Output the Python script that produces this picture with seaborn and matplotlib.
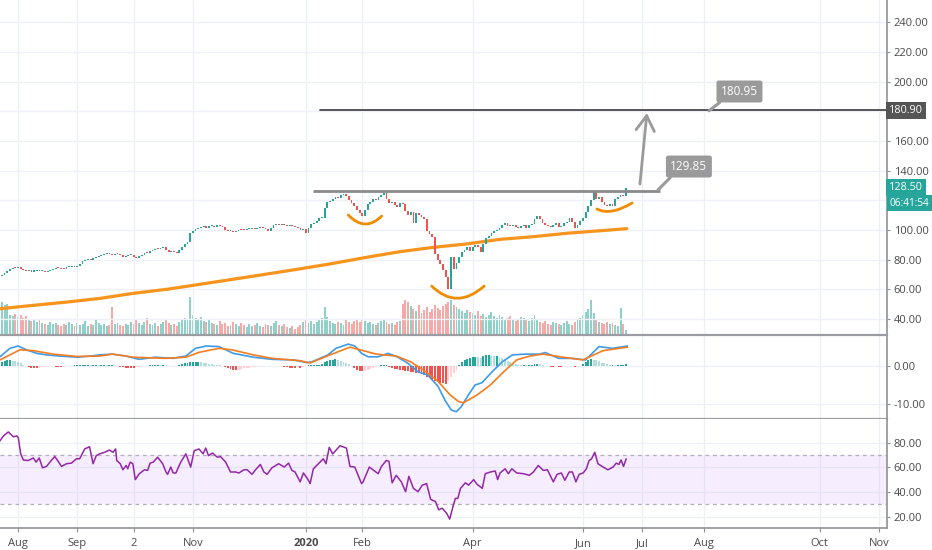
import numpy as np
import matplotlib
matplotlib.use("Agg")
import matplotlib.pyplot as plt
from matplotlib.path import Path
from matplotlib.patches import PathPatch
import seaborn as sns

# ---------------- data (bar index 0 = first trading day of Aug 2019) ----------------
first_bar = -6
first_open = 69.0
close_jul = [69.6, 70.8, 72.2, 73.6, 74.6, 74.2]
close_aug = [74.8, 74.0, 72.8, 72.3, 72.6, 72.0, 72.4, 72.9, 72.2, 72.6, 71.8, 72.5, 73.2, 73.8, 74.6, 74.2, 74.0, 73.5, 74.8, 75.2, 75.6, 75.0]
close_sep = [76.0, 77.2, 78.8, 80.0, 80.4, 79.6, 81.0, 81.8, 82.6, 83.4, 83.8, 84.4, 83.6, 83.0, 83.8, 84.0, 83.2, 81.8, 82.4, 83.0]
close_oct = [83.0, 81.6, 81.2, 82.6, 83.4, 84.6, 84.2, 85.6, 86.4, 87.4, 87.0, 88.0, 88.6, 86.2, 85.4, 86.0, 85.2, 84.2, 86.6, 88.8, 90.4, 92.0, 98.0]
close_nov = [99.6, 100.4, 101.2, 101.8, 102.4, 101.6, 102.8, 103.0, 102.2, 103.4, 102.6, 101.8, 100.2, 99.0, 99.4, 98.8, 99.6, 100.2, 100.0, 99.8, 100.6]
close_dec = [100.8, 101.0, 100.4, 101.4, 101.8, 101.2, 100.4, 99.2, 101.6, 103.2, 103.8, 103.4, 104.0, 103.2, 102.8, 103.0, 102.4, 102.0, 101.2, 99.8, 101.0]
close_jan = [98.0, 101.4, 103.8, 104.6, 106.2, 107.8, 108.4, 114.8, 118.6, 119.4, 120.8, 122.2, 121.8, 123.4, 124.0, 122.6, 120.4, 118.2, 116.0, 113.4, 111.2]
close_feb = [109.2, 113.8, 117.6, 119.2, 121.0, 120.0, 122.4, 123.6, 125.2, 120.6, 118.4, 119.0, 116.6, 115.8, 118.0, 117.2, 113.0, 110.4, 112.4]
close_mar = [105.0, 111.4, 110.0, 108.8, 107.6, 99.0, 97.2, 95.0, 84.0, 80.0, 77.0, 73.2, 68.0, 60.4, 82.0, 73.6, 78.0, 81.6, 85.0, 86.4, 88.8, 86.0]
close_apr = [88.8, 90.2, 88.4, 85.4, 90.6, 94.8, 96.2, 97.8, 99.4, 100.2, 101.6, 103.6, 104.8, 103.0, 102.4, 103.6, 102.0, 101.4, 102.8, 103.2, 101.6]
close_may = [103.4, 104.2, 107.6, 109.4, 107.2, 105.0, 103.6, 102.4, 101.8, 103.4, 104.6, 102.2, 103.0, 104.4, 105.6, 107.8, 105.2, 101.6, 103.4, 106.0]
close_jun = [108.0, 112.0, 116.5, 120.0, 125.8, 121.0, 122.2, 119.0, 117.0, 116.4, 117.6, 116.2, 120.6, 122.0, 123.4, 122.6, 128.5]

vol_jul = [66, 60, 62, 40, 38, 42]
vol_aug = [36, 40, 34, 38, 30, 28, 32, 26, 30, 24, 22, 20, 26, 22, 24, 20, 18, 22, 20, 26, 22, 18]
vol_sep = [24, 20, 22, 28, 18, 22, 20, 30, 24, 20, 22, 18, 20, 56, 22, 24, 20, 18, 22, 20]
vol_oct = [26, 22, 30, 24, 20, 26, 34, 22, 20, 24, 18, 22, 26, 30, 24, 20, 22, 18, 26, 30, 34, 32, 76]
vol_nov = [40, 34, 30, 36, 28, 26, 30, 24, 22, 20, 28, 22, 24, 18, 20, 26, 22, 18, 24, 20, 16]
vol_dec = [22, 18, 20, 24, 18, 16, 22, 20, 18, 24, 28, 20, 18, 22, 16, 14, 18, 12, 16, 20, 26]
vol_jan = [30, 24, 28, 22, 26, 30, 34, 56, 36, 28, 24, 22, 26, 24, 20, 30, 26, 22, 28, 32, 26]
vol_feb = [30, 28, 24, 26, 22, 20, 24, 28, 30, 26, 22, 24, 20, 26, 28, 62, 70, 66, 58]
vol_mar = [52, 48, 60, 44, 50, 56, 46, 52, 60, 54, 50, 58, 62, 66, 70, 60, 56, 52, 48, 44, 50, 46]
vol_apr = [44, 40, 48, 38, 42, 36, 40, 46, 38, 34, 40, 36, 30, 34, 38, 32, 28, 30, 36, 34, 30]
vol_may = [28, 34, 40, 30, 26, 24, 28, 22, 20, 26, 24, 22, 20, 24, 28, 22, 20, 26, 30, 34]
vol_jun = [40, 46, 52, 70, 44, 30, 26, 24, 22, 26, 22, 24, 20, 18, 54, 22, 10]

hist_jul = [0.9, 1.3, 1.5, 1.5, 1.3, 1.1]
hist_aug = [0.9, 0.6, 0.3, 0.0, -0.3, -0.5, -0.6, -0.6, -0.5, -0.4, -0.3, -0.2, -0.2, -0.1, -0.3, -0.4, -0.4, -0.3, -0.2, -0.1, 0.0, 0.1]
hist_sep = [0.1, 0.2, 0.2, 0.3, 0.3, 0.2, 0.2, 0.3, 0.2, 0.2, 0.2, 0.1, 0.1, 0.2, 0.1, -0.1, -0.3, -0.4, -0.5, -0.5]
hist_oct = [-0.5, -0.5, -0.4, -0.3, -0.2, -0.1, 0.0, 0.1, 0.2, 0.2, 0.2, 0.1, 0.1, 0.0, -0.1, -0.1, -0.1, 0.0, 0.2, 0.4, 0.6, 0.8, 0.9]
hist_nov = [1.0, 1.0, 1.0, 0.9, 0.8, 0.7, 0.5, 0.4, 0.3, 0.2, 0.1, 0.0, -0.3, -0.6, -0.9, -1.0, -1.1, -1.0, -0.9, -0.7, -0.6]
hist_dec = [-0.5, -0.4, -0.3, -0.2, -0.1, -0.1, 0.0, -0.1, -0.2, -0.2, -0.1, 0.0, -0.1, -0.3, -0.4, -0.5, -0.5, -0.5, -0.4, -0.5, -0.4]
hist_jan = [-0.2, 0.1, 0.2, 0.2, 0.2, 0.3, 0.5, 0.9, 1.3, 1.5, 1.6, 1.7, 1.5, 1.3, 1.0, 0.8, 0.4, 0.0, -0.5, -1.0, -1.4]
hist_feb = [-1.5, -1.3, -1.0, -0.8, -0.5, -0.3, -0.1, 0.1, 0.2, 0.2, -0.3, -0.6, -0.8, -0.9, -1.0, -1.2, -1.3, -1.5, -1.7]
hist_mar = [-1.7, -1.8, -1.9, -2.1, -2.4, -2.8, -3.2, -3.6, -4.0, -4.3, -4.5, -4.6, -4.7, -4.0, -3.0, -2.0, -1.0, 0.2, 1.0, 1.4, 1.8, 2.1]
hist_apr = [2.2, 2.3, 2.2, 2.0, 2.4, 2.8, 2.8, 2.6, 2.4, 2.6, 2.3, 2.0, 1.6, 1.2, 0.9, 0.7, 0.5, 0.3, 0.2, 0.2, 0.1]
hist_may = [0.1, 0.2, 0.4, 0.5, 0.4, 0.2, 0.0, -0.2, -0.3, -0.3, -0.2, -0.3, -0.3, -0.2, -0.2, 0.0, -0.2, -0.4, -0.3, -0.1]
hist_jun = [0.4, 0.9, 1.4, 1.7, 1.6, 1.4, 1.1, 0.8, 0.6, 0.4, 0.3, 0.3, 0.2, 0.2, 0.3, 0.3, 0.4]

macd_bar = [-6.7, -3.0, 0.0, 3.2, 7.0, 10.6, 15.5, 22.0, 27.0, 30.3, 35.0, 40.2, 45.0, 51.0, 57.5, 62.4, 66.0, 70.0, 74.7, 80.0, 87.5, 94.4, 102.4, 107.4, 109.2, 115.2, 118.2, 122.8, 125.2, 127.7, 130.2, 133.8, 137.6, 141.2, 145.0, 148.7, 152.3, 156.2, 158.7, 161.1, 163.0, 164.8, 167.4, 169.9, 172.5, 176.2, 180.0, 183.8, 188.7, 193.8, 196.0, 201.0, 206.1, 211.0, 216.0, 221.0, 226.6]
macd_val = [2.3, 4.5, 5.1, 4.1, 3.2, 2.8, 2.5, 2.2, 2.5, 2.8, 3.0, 2.5, 1.65, 2.2, 1.9, 2.5, 4.5, 5.1, 4.95, 3.2, 2.2, 1.65, 1.5, 0.8, 1.0, 2.8, 4.5, 5.6, 5.1, 3.2, 2.3, 2.3, 3.2, 2.2, 0.6, -1.6, -2.4, -5.4, -8.9, -11.5, -11.9, -10.6, -7.6, -5.0, -4.4, -1.6, 1.0, 2.8, 3.0, 3.0, 3.4, 1.9, 1.9, 1.5, 4.95, 4.5, 5.1]
signal_bar = [-6.7, 0.7, 5.7, 13.0, 21.7, 30.3, 35.3, 42.7, 55.0, 62.4, 67.3, 74.7, 79.6, 87.5, 94.4, 104.9, 108.6, 116.0, 123.4, 128.3, 133.2, 140.6, 146.0, 150.9, 155.8, 160.7, 163.8, 165.6, 170.6, 175.6, 180.5, 185.4, 190.3, 195.2, 202.6, 210.0, 217.5, 226.6]
signal_val = [1.5, 4.1, 3.9, 3.0, 2.4, 2.5, 3.0, 2.2, 1.9, 2.2, 3.45, 4.5, 4.1, 2.8, 1.9, 1.3, 0.7, 2.8, 4.8, 3.9, 3.0, 2.5, 1.0, -1.2, -3.8, -7.6, -9.3, -9.6, -7.6, -5.0, -1.6, 1.5, 2.5, 3.0, 2.2, 1.5, 3.9, 4.8]

rsi_bar = [-6.7, -5.4, -3.6, -1.7, -0.5, 0.1, 1.0, 2.0, 3.8, 5.7, 6.7, 7.9, 9.1, 10.6, 12.5, 13.7, 14.6, 16.2, 18.0, 19.9,
           21.7, 22.9, 24.8, 26.6, 27.9, 29.1, 30.3, 32.2, 34.0, 35.3, 36.3, 36.7, 38.0, 39.0, 40.2, 40.8, 41.7, 42.7, 43.6, 45.1,
           47.0, 48.2, 49.1, 50.3, 51.9, 53.8, 55.0, 55.6, 56.8, 57.7, 58.7, 60.5, 62.4, 64.2, 65.5, 67.3, 68.8, 69.8, 70.8, 72.3,
           74.1, 75.3, 77.2, 79.0, 80.9, 82.1, 84.0, 85.2, 87.0, 88.3, 90.1, 91.4, 92.6, 94.4, 96.9, 99.0, 100.6, 101.8, 103.0, 104.9,
           106.1, 107.6, 108.6, 109.8, 111.7, 113.5, 114.5, 115.7,
           117.0, 119.7, 122.1, 123.4, 125.2, 127.7, 128.3, 130.6, 133.0, 133.9, 135.1, 136.9, 137.9, 139.1, 140.6, 142.5, 144.1, 145.3,
           147.0, 148.7, 150.3, 151.9, 153.4, 155.2, 156.4, 157.7, 159.3, 160.5, 161.7, 162.6, 163.5, 164.5, 166.3, 167.5, 169.4, 170.6,
           172.6, 173.7, 175.6, 177.4, 178.3, 179.2, 181.1, 182.3, 183.6, 185.4, 187.9, 190.1, 191.6, 193.4, 195.3, 196.8, 199.0, 200.4,
           202.0, 203.3, 204.9, 206.1, 207.4, 208.6, 210.1, 211.3, 212.3, 213.2, 214.4, 215.6, 217.5, 219.3, 221.2, 222.4, 223.4, 224.2,
           225.1, 226.1]
rsi_val = [81.6, 85.6, 88.8, 84.8, 85.6, 84.3, 71.0, 66.0, 65.6, 67.7, 64.3, 67.7, 59.7, 60.8, 66.0, 68.8, 66.0, 60.8, 63.0, 63.5,
           67.0, 67.0, 75.0, 76.8, 63.0, 69.6, 71.0, 72.3, 74.1, 72.3, 75.0, 65.6, 63.0, 58.1, 61.6, 58.9, 64.3, 63.0, 50.1, 54.9,
           58.1, 57.6, 63.5, 64.3, 68.3, 63.0, 56.3, 54.4, 60.3, 55.5, 55.5, 64.3, 71.0, 60.3, 73.6, 75.0, 71.0, 75.7, 69.6, 71.7,
           68.3, 68.8, 64.3, 56.3, 56.3, 55.5, 58.1, 58.1, 54.4, 58.1, 62.4, 56.3, 54.4, 59.7, 63.0, 60.3, 63.5, 57.6, 56.3, 48.3,
           55.5, 50.9, 46.9, 58.9, 63.0, 67.0, 63.0, 76.3,
           71.0, 77.6, 75.7, 60.8, 60.3, 46.9, 48.3, 60.3, 56.3, 54.9, 60.8, 65.6, 65.0, 47.5, 53.6, 48.3, 40.3, 52.8,
           43.0, 40.3, 45.6, 46.9, 34.1, 32.3, 25.6, 26.9, 22.9, 18.1, 28.3, 34.9, 34.9, 43.0, 47.5, 45.6, 50.1, 46.4,
           43.0, 54.9, 56.3, 57.1, 50.1, 55.5, 58.9, 54.9, 58.9, 55.5, 54.9, 53.6, 56.3, 61.6, 57.6, 58.1, 48.3, 54.4,
           55.5, 49.6, 56.3, 56.3, 48.3, 54.4, 55.5, 58.9, 65.6, 66.9, 72.3, 63.0, 60.3, 58.1, 60.3, 63.5, 62.4, 66.0,
           60.8, 67.0]

ma_bar = [-6.7, 5.7, 18.1, 30.5, 42.9, 55.3, 67.7, 80.0, 92.5, 104.8, 117.2, 129.6, 142.0, 154.4, 166.8, 179.2, 191.6, 204.0, 216.4, 226.3]
ma_val = [46.9, 49.2, 51.4, 53.9, 57.3, 60.0, 63.4, 66.8, 70.3, 73.8, 77.5, 81.6, 85.4, 88.3, 90.6, 93.7, 95.5, 97.8, 99.5, 100.9]

tick_bars = [0, 22, 43, 65, 107, 128, 169, 210, 232, 255, 298, 320]
tick_labels = ["Aug", "Sep", "2", "Nov", "2020", "Feb", "Apr", "Jun", "Jul", "Aug", "Oct", "Nov"]
price_ticks = [40, 60, 80, 100, 120, 140, 160, 180, 200, 220, 240]
macd_ticks = [-10, 0]
rsi_ticks = [20, 40, 60, 80]

# drawings (bar index, price)
resist_bars = [109.7, 238.7]
resist_price = 126.5
target_start_bar = 112.3
target_price = 180.9
arrow_from = (231.2, 131.0)
arrow_to = (233.8, 178.9)
label1_text, label1_at, label1_tip = "129.85", (249.4, 142.8), (237.9, 127.0)
label2_text, label2_at, label2_tip = "180.95", (268.2, 193.4), (256.9, 180.4)
smile_arcs = [
    [(122.8, 110.1), (129.0, 98.3), (135.2, 109.4)],
    [(153.8, 62.2), (163.1, 45.7), (173.3, 62.2)],
    [(215.2, 114.2), (220.1, 109.4), (228.3, 118.2)],
]
last_price = 128.5
countdown = "06:41:54"

# ---------------- assemble ----------------
closes = np.array(close_jul + close_aug + close_sep + close_oct + close_nov + close_dec +
                  close_jan + close_feb + close_mar + close_apr + close_may + close_jun)
volumes = np.array(vol_jul + vol_aug + vol_sep + vol_oct + vol_nov + vol_dec +
                   vol_jan + vol_feb + vol_mar + vol_apr + vol_may + vol_jun)
hist = np.array(hist_jul + hist_aug + hist_sep + hist_oct + hist_nov + hist_dec +
                hist_jan + hist_feb + hist_mar + hist_apr + hist_may + hist_jun)
n = len(closes)
bars = np.arange(first_bar, first_bar + n)
opens = np.concatenate([[first_open], closes[:-1]])

UP, DOWN = "#26a69a", "#ef5350"
up = closes >= opens
cand_col = np.where(up, UP, DOWN)
vol_col = np.where(up, "#8fd0c9", "#f6a9a6")

prev_h = np.concatenate([[hist[0]], hist[:-1]])
hist_col = np.where(hist >= 0,
                    np.where(hist >= prev_h, "#26a69a", "#b2dfdb"),
                    np.where(hist <= prev_h, "#ef5350", "#ffcdd2"))

sns.set_theme(style="white")
plt.rcParams["font.family"] = ["Open Sans", "DejaVu Sans"]

W, H = 932, 550
fig = plt.figure(figsize=(W / 100, H / 100), dpi=100)
axis_x = 886.7
left_w = axis_x / W
ax_p = fig.add_axes([0, 1 - 335 / H, left_w, 335 / H])
ax_m = fig.add_axes([0, 1 - 419 / H, left_w, 84 / H], sharex=ax_p)
ax_r = fig.add_axes([0, 1 - 528.3 / H, left_w, 109.3 / H], sharex=ax_p)

# volume (own scale on a twin axis, drawn beneath the candles)
ax_v = ax_p.twinx()
ax_v.bar(bars, volumes, width=0.72, color=vol_col, linewidth=0)
ax_v.set_ylim(0, 670)
ax_v.set_axis_off()
ax_v.set_zorder(0)
ax_p.set_zorder(1)
ax_p.patch.set_alpha(0)

x_left = -18 / 2.69
x_right = (axis_x - 18) / 2.69
ax_p.set_xlim(x_left, x_right)
ax_p.set_ylim(29.2, 255.1)
ax_m.set_ylim(-13.8, 7.95)
ax_r.set_ylim(10.6, 99.3)

GRID = "#eef0f5"
SPINE = "#8f9196"
TXT = "#4a4a4a"
for ax in (ax_p, ax_m, ax_r):
    ax.grid(True, color=GRID, linewidth=1)
    ax.set_axisbelow(True)
    ax.spines["left"].set_visible(False)
    ax.spines["top"].set_visible(False)
    ax.spines["right"].set_color(SPINE)
    ax.spines["right"].set_linewidth(1.2)
    ax.spines["bottom"].set_color("#9b9da3")
    ax.spines["bottom"].set_linewidth(1.6)
    ax.yaxis.tick_right()
    ax.tick_params(axis="y", length=2.5, width=0.8, color=SPINE, labelsize=8,
                   labelcolor=TXT, pad=2.5, right=True, left=False,
                   labelright=True, labelleft=False)
ax_r.spines["bottom"].set_linewidth(1.2)
ax_r.spines["bottom"].set_color(SPINE)

# candles
bottoms = np.minimum(opens, closes)
heights = np.maximum(np.abs(closes - opens), 0.7)
ax_p.bar(bars, heights, bottom=bottoms, width=0.68, color=cand_col, linewidth=0, zorder=3)

# moving average
sns.lineplot(x=ma_bar, y=ma_val, ax=ax_p, color="#f7941d", linewidth=2.3, sort=False, zorder=2)

# drawings
GRAY = "#9a9a9a"
ax_p.plot(resist_bars, [resist_price, resist_price], color="#8a8a8a", linewidth=2, zorder=4,
          solid_capstyle="butt")
ax_p.plot([target_start_bar, x_right], [target_price, target_price], color="#555555", linewidth=1.4, zorder=4)
ax_p.annotate("", xy=arrow_to, xytext=arrow_from,
              arrowprops=dict(arrowstyle="->,head_length=0.9,head_width=0.55", color=GRAY, lw=2,
                              shrinkA=0, shrinkB=0), zorder=5)
for txt, at, tip in ((label1_text, label1_at, label1_tip), (label2_text, label2_at, label2_tip)):
    ax_p.annotate(txt, xy=tip, xytext=at, ha="center", va="center", color="white", fontsize=8.5,
                  bbox=dict(boxstyle="round,pad=0.38,rounding_size=0.2", fc=GRAY, ec="none"),
                  arrowprops=dict(arrowstyle="-", color=GRAY, lw=2.2, shrinkA=0, shrinkB=0,
                                  relpos=(0.12, 0.0)), zorder=6)
for arc in smile_arcs:
    path = Path(arc, [Path.MOVETO, Path.CURVE3, Path.CURVE3])
    ax_p.add_patch(PathPatch(path, fill=False, edgecolor="#f08c00", linewidth=2, capstyle="round", zorder=5))

# price scale
ax_p.set_yticks(price_ticks)
ax_p.set_yticklabels(["" if p in (120, 180) else f"{p:.2f}" for p in price_ticks])
ytr = ax_p.get_yaxis_transform()
ax_p.text(1.003, target_price, f"{target_price:.2f}", transform=ytr, ha="left", va="center", fontsize=7.8,
          color="white", clip_on=False, bbox=dict(boxstyle="square,pad=0.28", fc="#555555", ec="none"), zorder=7)
ax_p.text(1.003, last_price, f"{last_price:.2f}", transform=ytr, ha="left", va="center", fontsize=7.8,
          color="white", clip_on=False, bbox=dict(boxstyle="square,pad=0.28", fc=UP, ec="none"), zorder=7)
ax_p.annotate(countdown, xy=(1.003, last_price), xycoords=ytr, xytext=(0, -11), textcoords="offset points",
              ha="left", va="center", fontsize=7.2, color="white", annotation_clip=False,
              bbox=dict(boxstyle="square,pad=0.25", fc=UP, ec="none"), zorder=7)

# MACD
ax_m.bar(bars, hist, width=0.72, color=hist_col, linewidth=0, zorder=2)
sns.lineplot(x=macd_bar, y=macd_val, ax=ax_m, color="#3d9be9", linewidth=1.2, sort=False, zorder=3)
sns.lineplot(x=signal_bar, y=signal_val, ax=ax_m, color="#f57c1f", linewidth=1.2, sort=False, zorder=3)
ax_m.set_yticks(macd_ticks)
ax_m.set_yticklabels([f"{v:.2f}" for v in macd_ticks])

# RSI
ax_r.axhspan(30, 70, color="#a64dff", alpha=0.09, linewidth=0, zorder=1)
for lvl in (70, 30):
    ax_r.axhline(lvl, color="#b3adb9", linestyle=(0, (3, 3)), linewidth=0.9, zorder=2)
sns.lineplot(x=rsi_bar, y=rsi_val, ax=ax_r, color="#9427a8", linewidth=1.1, sort=False, zorder=3)
ax_r.set_yticks(rsi_ticks)
ax_r.set_yticklabels([f"{v:.2f}" for v in rsi_ticks])

# time axis
ax_r.set_xticks(tick_bars)
ax_r.set_xticklabels(tick_labels)
ax_r.tick_params(axis="x", length=3, width=0.8, color=SPINE, labelsize=8, labelcolor=TXT, pad=4, bottom=True)
for ax in (ax_p, ax_m):
    ax.tick_params(axis="x", length=0, labelbottom=False)
for lab in ax_r.get_xticklabels():
    if lab.get_text() == "2020":
        lab.set_fontweight("bold")
for ax in (ax_p, ax_m, ax_r):
    ax.set_xlabel("")
    ax.set_ylabel("")

fig.savefig("out.png", dpi=100)
